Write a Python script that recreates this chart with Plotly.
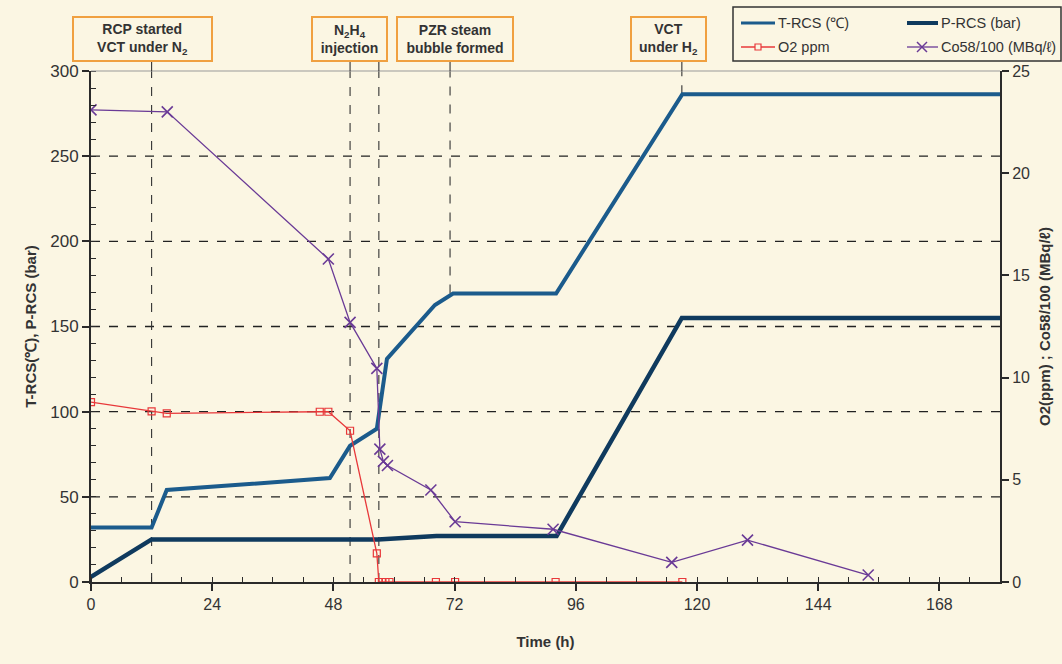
import plotly.graph_objects as go

# ---------------- data ----------------
t_time = [0, 12, 15, 47.3, 51.3, 56.6, 58.6, 68.1, 71.7, 92.1, 117.1, 180]
t_rcs = [32, 32, 54, 61, 80, 90, 131, 162.6, 169.4, 169.4, 286.4, 286.4]

p_time = [0, 12, 56.8, 68.4, 92.2, 117, 180]
p_rcs = [3, 25, 25, 27, 27, 155, 155]

o2_time = [0, 12, 15, 45.3, 47, 51.3, 56.6, 57.0, 57.6, 58.3, 59.1, 68.3, 72.1, 92, 117.1]
o2_ppm = [8.8, 8.35, 8.25, 8.33, 8.33, 7.4, 1.4, 0, 0, 0, 0, 0, 0, 0, 0]

co_time = [0, 15.1, 47, 51.3, 56.6, 57.2, 57.9, 58.7, 67.3, 72.1, 91.5, 115, 130, 153.9]
co58 = [23.1, 23.0, 15.8, 12.7, 10.45, 6.5, 5.9, 5.7, 4.5, 2.95, 2.58, 0.96, 2.05, 0.34]

event_time = [12, 51.3, 57, 71.1, 117]
event_bottom = [0, 0, 0, 169.4, 286.4]
box_center = [10.2, 51.1, 72.1, 114.3]
box_width = [141, 77, 118, 77]
box_text = ["RCP started<br>VCT under N<sub>2</sub>",
            "N<sub>2</sub>H<sub>4</sub><br>injection",
            "PZR steam<br>bubble formed",
            "VCT<br>under H<sub>2</sub>"]

grid_vals = [50, 100, 150, 200, 250]

# ---------------- style ----------------
BG = "#fbf6e3"
C_T = "#1b5b8c"
C_P = "#0f3a5e"
C_O2 = "#e8383a"
C_CO = "#6a3a96"
AX = "#2a2a2a"
ORANGE = "#f0a040"
FONT = "Liberation Sans Narrow, Liberation Sans, Arial"

W, H = 1062, 664
ML, MR, MT, MB = 91, 62, 71, 82
PW = W - ML - MR
PH = H - MT - MB


def px(xpix):
    return (xpix - ML) / PW


def py(ypix):
    return (H - MB - ypix) / PH


fig = go.Figure()

fig.add_trace(go.Scatter(x=t_time, y=t_rcs, mode="lines", name="T-RCS (℃)",
                         line=dict(color=C_T, width=4), showlegend=False))
fig.add_trace(go.Scatter(x=p_time, y=p_rcs, mode="lines", name="P-RCS (bar)",
                         line=dict(color=C_P, width=4.5), showlegend=False))
fig.add_trace(go.Scatter(x=o2_time, y=o2_ppm, mode="lines+markers", name="O2 ppm", yaxis="y2",
                         line=dict(color=C_O2, width=1.3),
                         marker=dict(symbol="square-open", size=7, color=C_O2, line=dict(width=1.2)),
                         showlegend=False))
fig.add_trace(go.Scatter(x=co_time, y=co58, mode="lines+markers", name="Co58/100 (MBq/ℓ)", yaxis="y2",
                         line=dict(color=C_CO, width=1.3),
                         marker=dict(symbol="x-thin-open", size=11, color=C_CO, line=dict(width=1.6, color=C_CO)),
                         showlegend=False))

shapes = []
# horizontal dashed grid
for g in grid_vals:
    shapes.append(dict(type="line", xref="paper", yref="y", x0=0, x1=1, y0=g, y1=g,
                       line=dict(color="#222", width=1.3, dash="dash"), layer="below"))
# top border
shapes.append(dict(type="line", xref="paper", yref="paper", x0=0, x1=1, y0=1, y1=1,
                   line=dict(color="#999", width=1)))
# event lines
box_bottom = py(62)
for ex, eb in zip(event_time, event_bottom):
    shapes.append(dict(type="line", xref="x", yref="y", x0=ex, x1=ex, y0=eb, y1=300,
                       line=dict(color="#333", width=1.1, dash="dash"), layer="below"))
    shapes.append(dict(type="line", xref="x", yref="paper", x0=ex, x1=ex, y0=1, y1=box_bottom,
                       line=dict(color="#333", width=1.1, dash="dash")))

annotations = []
for cx, bw, txt in zip(box_center, box_width, box_text):
    annotations.append(dict(x=cx, xref="x", y=py(39), yref="paper", text="<b>" + txt + "</b>",
                            xanchor="center", yanchor="middle",
                            showarrow=False, width=bw - 6, height=40, align="center", valign="middle",
                            bgcolor=BG, bordercolor=ORANGE, borderwidth=2, borderpad=1,
                            font=dict(family="Liberation Sans, Arial", size=14, color="#333")))

# manual legend
shapes.append(dict(type="rect", xref="paper", yref="paper", x0=px(733), x1=px(1061), y0=py(61), y1=py(7),
                   line=dict(color="#333", width=1.5), fillcolor=BG))
leg = [
    (741, 775, 23, C_T, 3, "T-RCS (℃)"),
    (907, 938, 23, C_P, 4, "P-RCS (bar)"),
    (741, 775, 47, C_O2, 1.3, "O2 ppm"),
    (907, 938, 47, C_CO, 1.3, "Co58/100 (MBq/ℓ)"),
]
for x0, x1, yy, col, lw, name in leg:
    shapes.append(dict(type="line", xref="paper", yref="paper", x0=px(x0), x1=px(x1), y0=py(yy), y1=py(yy),
                       line=dict(color=col, width=lw)))
    annotations.append(dict(x=px(x1 + 1), y=py(yy), xref="paper", yref="paper", text=name, showarrow=False,
                            xanchor="left", yanchor="middle",
                            font=dict(family="Liberation Sans, Arial", size=14.5, color="#333")))
# legend marker symbols
shapes.append(dict(type="rect", xref="paper", yref="paper", x0=px(755), x1=px(761), y0=py(50), y1=py(44),
                   line=dict(color=C_O2, width=1.2), fillcolor=BG))
shapes.append(dict(type="line", xref="paper", yref="paper", x0=px(917), x1=px(927), y0=py(52), y1=py(42),
                   line=dict(color=C_CO, width=1.5)))
shapes.append(dict(type="line", xref="paper", yref="paper", x0=px(917), x1=px(927), y0=py(42), y1=py(52),
                   line=dict(color=C_CO, width=1.5)))

fig.update_layout(
    width=W, height=H,
    margin=dict(l=ML, r=MR, t=MT, b=MB),
    paper_bgcolor=BG, plot_bgcolor=BG,
    showlegend=False,
    shapes=shapes, annotations=annotations,
    font=dict(family=FONT, color="#333"),
    xaxis=dict(range=[0, 180], tickmode="linear", tick0=0, dtick=24, showgrid=False, zeroline=False,
               showline=True, linecolor=AX, linewidth=2, ticks="outside", ticklen=7, tickwidth=1.5,
               tickcolor=AX, tickfont=dict(size=16, family=FONT, color="#333"),
               minor=dict(dtick=6, ticks="inside", ticklen=5, tickcolor=AX, tickwidth=1.2, showgrid=False),
               title=dict(text="<b>Time (h)</b>", font=dict(size=15, family=FONT, color="#333"), standoff=24)),
    yaxis=dict(range=[0, 300], tickmode="linear", tick0=0, dtick=50, showgrid=False, zeroline=False,
               showline=True, linecolor=AX, linewidth=2, ticks="outside", ticklen=7, tickwidth=1.5,
               tickcolor=AX, tickfont=dict(size=17, family=FONT, color="#333"),
               minor=dict(dtick=10, ticks="inside", ticklen=5, tickcolor=AX, tickwidth=1.2, showgrid=False),
               title=dict(text="<b>T-RCS(℃), P-RCS (bar)</b>", font=dict(size=15, family=FONT, color="#333"),
                          standoff=10)),
    yaxis2=dict(range=[0, 25], overlaying="y", side="right", tickmode="linear", tick0=0, dtick=5,
                showgrid=False, zeroline=False, showline=True, linecolor=AX, linewidth=2,
                ticks="outside", ticklen=7, tickwidth=1.5, tickcolor=AX,
                tickfont=dict(size=16, family=FONT, color="#333"),
                title=dict(text="<b>O2(ppm) ; Co58/100 (MBq/ℓ)</b>", font=dict(size=15, family=FONT, color="#333"),
                           standoff=10)),
)

fig.write_html("out.html")
